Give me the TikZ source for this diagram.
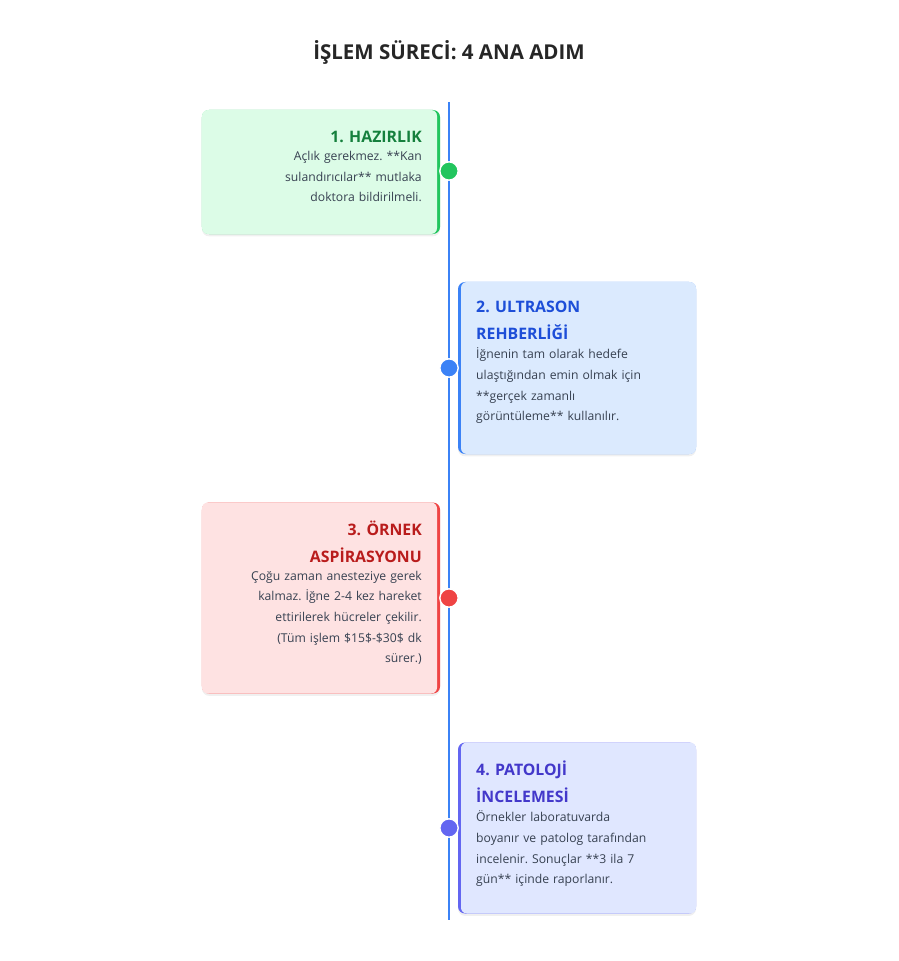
\documentclass[tikz,border=0pt]{standalone}
\usepackage{fontspec}
\setmainfont{Open Sans}
\frenchspacing
\usetikzlibrary{positioning,shadows}
\definecolor{gline}{HTML}{22C55E}\definecolor{gfill}{HTML}{DCFCE7}\definecolor{gtext}{HTML}{15803D}
\definecolor{bline}{HTML}{3B82F6}\definecolor{bfill}{HTML}{DBEAFE}\definecolor{btext}{HTML}{1D4ED8}
\definecolor{rline}{HTML}{EF4444}\definecolor{rfill}{HTML}{FEE2E2}\definecolor{rtext}{HTML}{B91C1C}
\definecolor{iline}{HTML}{6366F1}\definecolor{ifill}{HTML}{E0E7FF}\definecolor{itext}{HTML}{4338CA}
\definecolor{body}{HTML}{374151}
\tikzset{
  card/.style={rounded corners=6pt,minimum width=7.14cm,inner sep=0pt,
    drop shadow={opacity=0.12,shadow xshift=0pt,shadow yshift=-2pt}},
  inset/.style={rounded corners=5pt,minimum width=7.05cm,inner sep=0pt},
  head/.style={font=\fontsize{13.5}{22.5}\selectfont\bfseries,text width=6.1cm,inner sep=0pt},
  txt/.style={font=\fontsize{10.4}{17.6}\selectfont,text=body,text width=6.1cm,inner sep=0pt},
  dot/.style={circle,fill=#1,draw=white,line width=1.2pt,minimum size=0.55cm,inner sep=0pt}
}
\begin{document}
\begin{tikzpicture}[x=0.03cm,y=-0.03cm]
\useasboundingbox (0,0) rectangle (898,961);
\node[font=\fontsize{17.5}{20}\selectfont\bfseries,text=black!85] (title) at (449,52) {İŞLEM SÜRECİ: 4 ANA ADIM};
\coordinate (top) at (449,102);
\coordinate (bot) at (449,920);
\draw[bline,line width=1.3pt] (top) -- (bot);
% 1
\node[card,fill=gline,minimum height=3.72cm] (c1) at (321,172) {};
\node[inset,fill=gfill,minimum height=3.72cm,anchor=west] (c1i) at (c1.west) {};
\node[head,text=gtext,align=right,anchor=north east] (h1) at (422,131) {1. HAZIRLIK};
\node[txt,align=right,anchor=north east] (t1) at ([yshift=-7pt]h1.south east) {Açlık gerekmez. {}**Kan\\ sulandırıcılar** mutlaka\\ doktora bildirilmeli.};
\node[dot=gline] (d1) at (449,171) {};
% 2
\node[card,fill=bline,minimum height=5.16cm] (c2) at (577,368) {};
\node[inset,fill=bfill,minimum height=5.16cm,anchor=east] (c2i) at (c2.east) {};
\node[head,text=btext,align=left,anchor=north west] (h2) at (476,301) {2. ULTRASON\\ REHBERLİĞİ};
\node[txt,align=left,anchor=north west] (t2) at ([yshift=-7pt]h2.south west) {İğnenin tam olarak hedefe\\ ulaştığından emin olmak için\\ {}**gerçek zamanlı\\ görüntüleme** kullanılır.};
\node[dot=bline] (d2) at (449,368) {};
% 3
\node[card,fill=rline,minimum height=5.73cm] (c3) at (321,598) {};
\node[inset,fill=rfill,minimum height=5.73cm,anchor=west] (c3i) at (c3.west) {};
\node[head,text=rtext,align=right,anchor=north east] (h3) at (422,521) {3. ÖRNEK\\ ASPİRASYONU};
\node[txt,align=right,anchor=north east] (t3) at ([yshift=-7pt]h3.south east) {Çoğu zaman anesteziye gerek\\ kalmaz. İğne 2-4 kez hareket\\ ettirilerek hücreler çekilir.\\ {}(Tüm işlem \$15\$-\$30\$ dk\\ sürer.)};
\node[dot=rline] (d3) at (449,598) {};
% 4
\node[card,fill=iline,minimum height=5.13cm] (c4) at (577,828) {};
\node[inset,fill=ifill,minimum height=5.13cm,anchor=east] (c4i) at (c4.east) {};
\node[head,text=itext,align=left,anchor=north west] (h4) at (476,761) {4. PATOLOJİ\\ İNCELEMESİ};
\node[txt,align=left,anchor=north west] (t4) at ([yshift=-7pt]h4.south west) {Örnekler laboratuvarda\\ boyanır ve patolog tarafından\\ incelenir. Sonuçlar {}**3 ila 7\\ gün** içinde raporlanır.};
\node[dot=iline] (d4) at (449,828) {};
\end{tikzpicture}
\end{document}
